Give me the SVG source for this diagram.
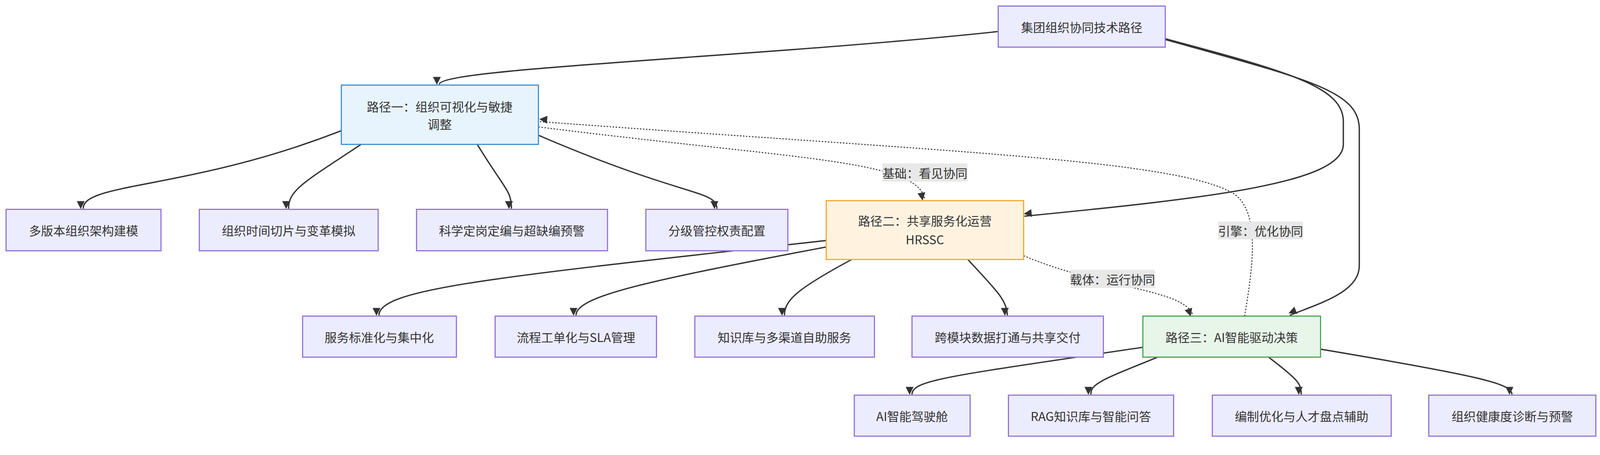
<svg xmlns="http://www.w3.org/2000/svg" width="4219" height="1164" viewBox="0 0 4219 1164">
<style>
.n rect{fill:#ECECFF;stroke:#9370DB;stroke-width:3}
.p1 rect{fill:#E8F4FD;stroke:#3A8FD0;stroke-width:3}
.p2 rect{fill:#FFF3E0;stroke:#F0A830;stroke-width:3}
.p3 rect{fill:#E8F5E9;stroke:#4CA050;stroke-width:3}
text{font-family:"Noto Sans CJK SC","Liberation Sans",sans-serif;font-size:32px;fill:#333;text-anchor:middle;dominant-baseline:central}
.e path{fill:none;stroke:#333;stroke-width:3.5}
.e path.d{stroke-width:2.5;stroke-dasharray:4 4}
.lb rect{fill:#E8E8E8}
</style>
<defs><marker id="a" viewBox="0 0 10 10" refX="9" refY="5" markerWidth="8" markerHeight="8" markerUnits="userSpaceOnUse" orient="auto" style="overflow:visible"><path d="M0,0 L10,5 L0,10 z" fill="#333" transform="scale(2.6) translate(-6,-0)"/></marker></defs>
<g transform="scale(0.972)">
<g class="e">
<path d="M2629,83 C2000,150 1157,180 1157,222" marker-end="url(#a)"/>
<path d="M3069,102 C3400,190 3538,230 3538,320 L3538,380 C3538,480 3200,520 2698,569" marker-end="url(#a)"/>
<path d="M3069,104 C3450,210 3580,240 3580,340 L3580,700 C3580,770 3470,800 3397,830" marker-end="url(#a)"/>
<path d="M899,344 C500,500 219,480 219,549" marker-end="url(#a)"/>
<path d="M951,380 C800,480 760,500 760,549" marker-end="url(#a)"/>
<path d="M1257,380 C1330,500 1347,500 1347,549" marker-end="url(#a)"/>
<path d="M1418,356 C1800,520 1888,500 1888,549" marker-end="url(#a)"/>
<path d="M2176,633 C1300,730 998,760 998,830" marker-end="url(#a)"/>
<path d="M2176,650 C1700,740 1517,780 1517,830" marker-end="url(#a)"/>
<path d="M2243,683 C2100,760 2066,790 2066,830" marker-end="url(#a)"/>
<path d="M2549,683 C2620,760 2653,790 2653,830" marker-end="url(#a)"/>
<path d="M3010,914 C2500,990 2402,1000 2402,1038" marker-end="url(#a)"/>
<path d="M3049,940 C2900,1000 2873,1010 2873,1038" marker-end="url(#a)"/>
<path d="M3341,940 C3420,1000 3427,1010 3427,1038" marker-end="url(#a)"/>
<path d="M3478,919 C3900,990 3982,1010 3982,1038" marker-end="url(#a)"/>
<path class="d" d="M1418,334 C2100,420 2420,420 2436,526" marker-end="url(#a)"/>
<path class="d" d="M3278,832 C3300,700 3320,560 3250,510 C3100,420 2500,400 1421,320" marker-end="url(#a)"/>
<path class="d" d="M2696,673 C2900,760 3120,760 3142,830" marker-end="url(#a)"/>
</g>
<g class="lb">
<rect x="2324" y="430" width="224" height="48"/><text x="2436" y="454">基础：看见协同</text>
<rect x="3208" y="583" width="224" height="47"/><text x="3320" y="606">引擎：优化协同</text>
<rect x="2819" y="710" width="223" height="48"/><text x="2930" y="734">载体：运行协同</text>
</g>
<g id="root" class="n"><rect x="2629" y="16" width="440" height="108"/><text x="2849" y="70">集团组织协同技术路径</text></g>
<g id="p1" class="p1"><rect x="899" y="224" width="519" height="156"/><text x="1158" y="279">路径一：组织可视化与敏捷</text><text x="1158" y="326">调整</text></g>
<g id="p2" class="p2"><rect x="2176" y="528" width="520" height="155"/><text x="2436" y="580">路径二：共享服务化运营</text><text x="2436" y="629">HRSSC</text></g>
<g id="p3" class="p3"><rect x="3010" y="832" width="468" height="108"/><text x="3244" y="886">路径三：AI智能驱动决策</text></g>
<g id="l1" class="n"><rect x="16" y="551" width="408" height="109"/><text x="220" y="605">多版本组织架构建模</text></g>
<g id="l2" class="n"><rect x="525" y="551" width="471" height="109"/><text x="760" y="605">组织时间切片与变革模拟</text></g>
<g id="l3" class="n"><rect x="1097" y="551" width="503" height="109"/><text x="1348" y="605">科学定岗定编与超缺编预警</text></g>
<g id="l4" class="n"><rect x="1701" y="551" width="374" height="109"/><text x="1888" y="605">分级管控权责配置</text></g>
<g id="s1" class="n"><rect x="797" y="832" width="405" height="108"/><text x="999" y="886">服务标准化与集中化</text></g>
<g id="s2" class="n"><rect x="1304" y="832" width="425" height="108"/><text x="1517" y="886">流程工单化与SLA管理</text></g>
<g id="s3" class="n"><rect x="1830" y="832" width="473" height="108"/><text x="2066" y="886">知识库与多渠道自助服务</text></g>
<g id="s4" class="n"><rect x="2402" y="832" width="504" height="108"/><text x="2654" y="886">跨模块数据打通与共享交付</text></g>
<g id="a1" class="n"><rect x="2250" y="1040" width="305" height="108"/><text x="2402" y="1094">AI智能驾驶舱</text></g>
<g id="a2" class="n"><rect x="2656" y="1040" width="435" height="108"/><text x="2873" y="1094">RAG知识库与智能问答</text></g>
<g id="a3" class="n"><rect x="3193" y="1040" width="471" height="108"/><text x="3428" y="1094">编制优化与人才盘点辅助</text></g>
<g id="a4" class="n"><rect x="3763" y="1040" width="440" height="108"/><text x="3983" y="1094">组织健康度诊断与预警</text></g>
</g>
</svg>
